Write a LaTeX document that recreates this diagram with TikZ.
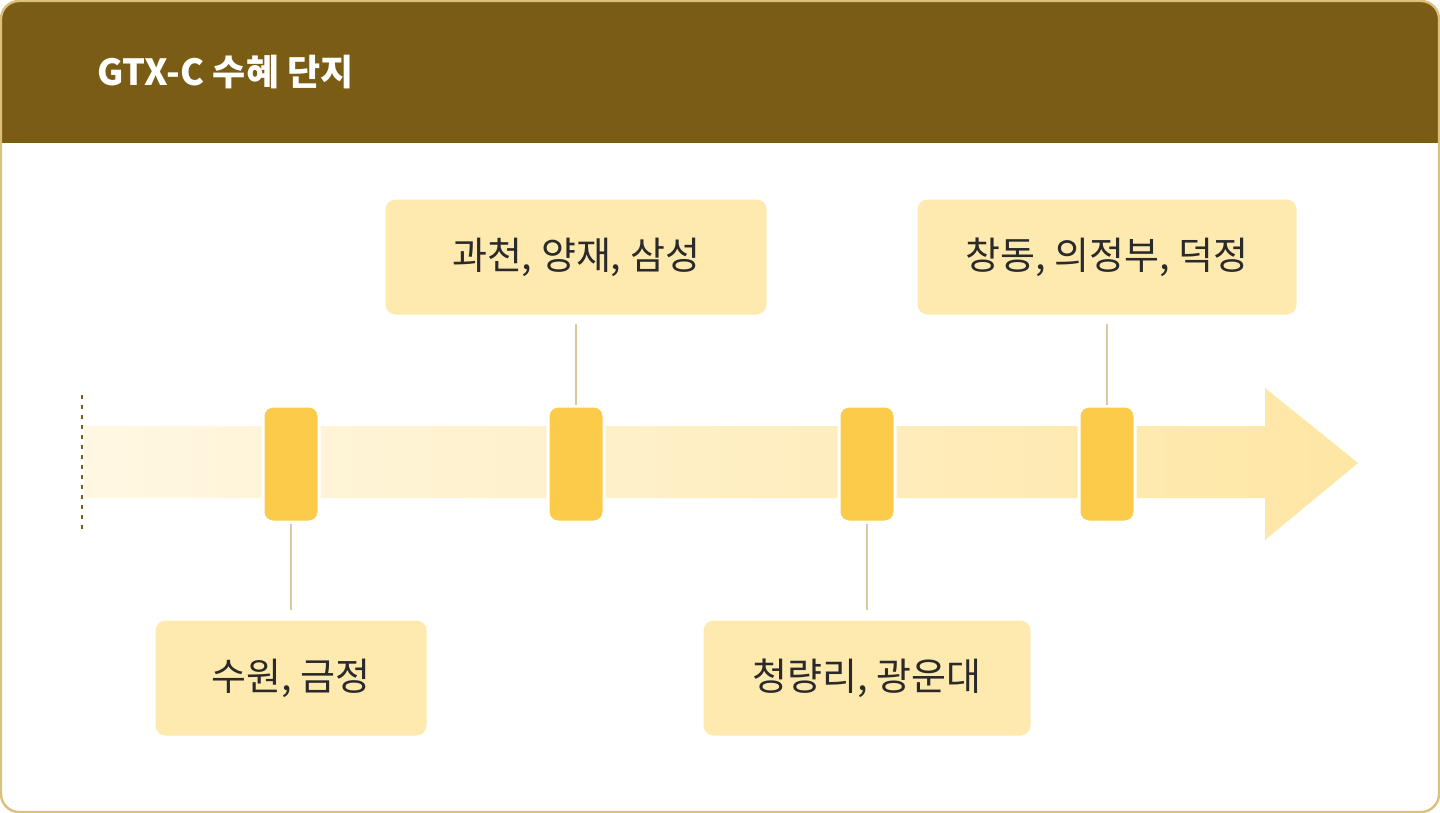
\documentclass[tikz,border=0pt]{standalone}
\usepackage{fontspec}
\setmainfont{Noto Sans CJK KR}
\usetikzlibrary{positioning}
\definecolor{headbrown}{HTML}{7A5C14}
\definecolor{frametan}{HTML}{DCC07C}
\definecolor{boxfill}{HTML}{FEE9AE}
\definecolor{markfill}{HTML}{FDCB4A}
\definecolor{linktan}{HTML}{D9C8A0}
\definecolor{textdark}{HTML}{2A2A2A}
\tikzset{
  stopbox/.style={draw=white, line width=2.5pt, fill=boxfill, rounded corners=6pt,
    text=textdark, font=\fontsize{19}{22}\selectfont, inner sep=0pt},
  stopmark/.style={draw=white, line width=1.5pt, fill=markfill, rounded corners=5pt,
    minimum width=28pt, minimum height=58pt, inner sep=0pt},
  link/.style={draw=linktan, line width=1pt}
}
\begin{document}
\begin{tikzpicture}[x=0.5pt,y=-0.5pt]
\useasboundingbox (0,0) rectangle (1440,813);
% frame and header
\fill[white, rounded corners=9pt] (1,1) rectangle (1439,812);
\begin{scope}
\clip[rounded corners=9pt] (1,1) rectangle (1439,812);
\fill[headbrown] (0,0) rectangle (1440,143);
\end{scope}
\draw[frametan, line width=1.2pt, rounded corners=9pt] (1,1) rectangle (1439,812);
\node[anchor=west, text=white, font=\fontsize{18}{20}\selectfont\bfseries] (title) at (90,72) {GTX-C 수혜 단지};
% timeline arrow
\shade[left color=boxfill!35, right color=boxfill!90!markfill]
  (84,426) -- (1265,426) -- (1265,388) -- (1358,463) -- (1265,540) -- (1265,498) -- (84,498) -- cycle;
\draw[headbrown, line width=1pt, dash pattern=on 2pt off 3pt] (82,395) -- (82,532);
% markers
\node[stopmark] (m1) at (291,464) {};
\node[stopmark] (m2) at (576,464) {};
\node[stopmark] (m3) at (867,464) {};
\node[stopmark] (m4) at (1107,464) {};
% labels
\node[stopbox, minimum width=193pt, minimum height=60pt] (b2) at (576,257) {과천, 양재, 삼성};
\node[stopbox, minimum width=192pt, minimum height=60pt] (b4) at (1107,257) {창동, 의정부, 덕정};
\node[stopbox, minimum width=138pt, minimum height=60pt] (b1) at (291,678) {수원, 금정};
\node[stopbox, minimum width=166pt, minimum height=60pt] (b3) at (867,678) {청량리, 광운대};
% connectors
\draw[link] (b2.south) ++(0,4) -- (m2.north);
\draw[link] (b4.south) ++(0,4) -- (m4.north);
\draw[link] (m1.south) -- ([yshift=3pt]b1.north);
\draw[link] (m3.south) -- ([yshift=3pt]b3.north);
\end{tikzpicture}
\end{document}
